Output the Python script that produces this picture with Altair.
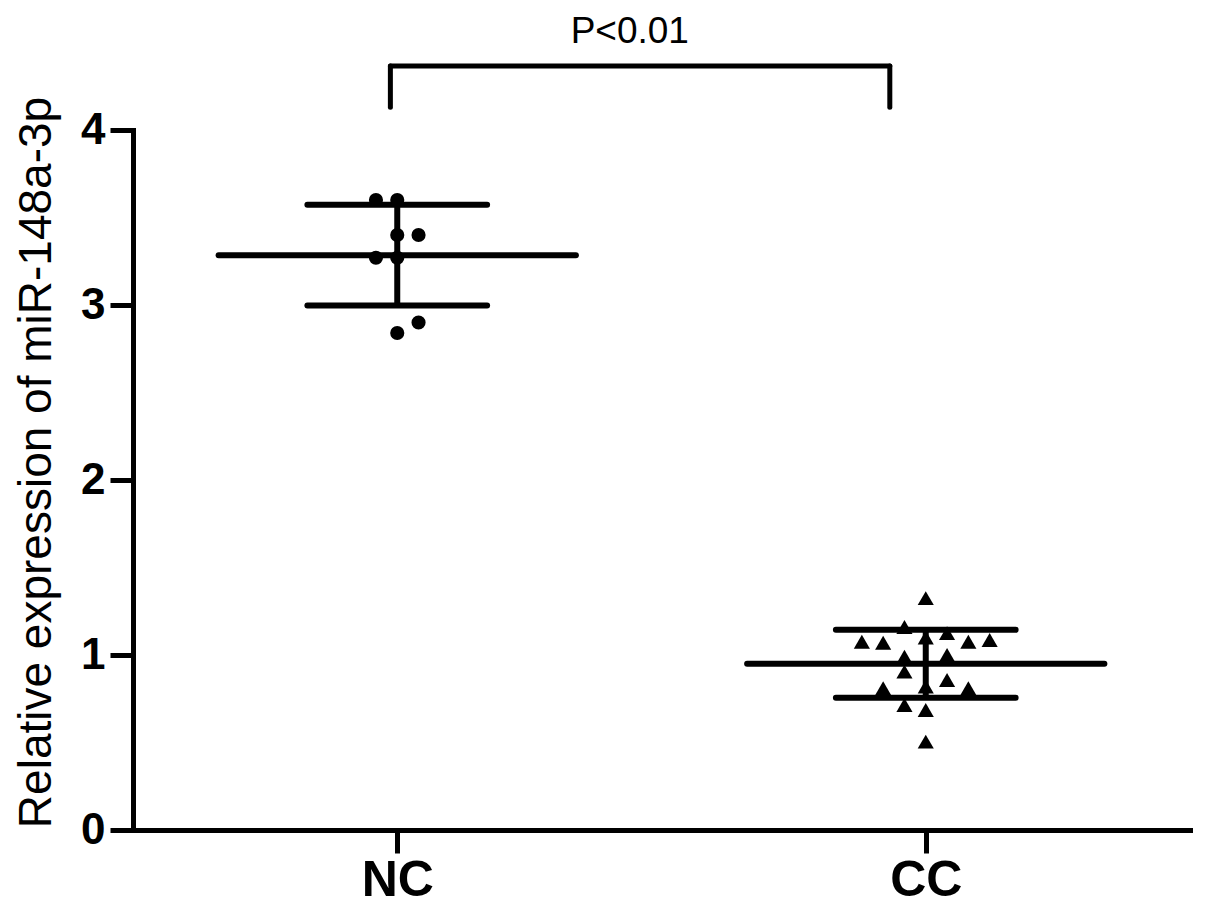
import altair as alt
import pandas as pd

# ---- data ----
groups = ["NC", "CC"]
group_pos = [1, 2]

nc_values = [3.60, 3.60, 3.40, 3.40, 3.27, 3.27, 2.84, 2.90]
nc_cols = [-1, 0, 0, 1, -1, 0, 0, 1]

cc_values = [1.325, 1.16, 1.076, 1.07, 1.10, 1.125, 1.076, 1.086, 0.99, 1.00,
             0.905, 0.81, 0.82, 0.857, 0.81, 0.714, 0.686, 0.505]
cc_cols = [0, -1, -3, -2, 0, 1, 2, 3, -1, 1, -1, -2, 0, 1, 2, -1, 0, 0]

means = [3.285, 0.950]
sds = [0.288, 0.194]

p_label = "P<0.01"
bracket_x = [0.987, 1.932]
bracket_top = 4.366
bracket_bottom = 4.13
p_text_x = 1.44
p_text_y = 4.50

col_step = 0.0403
mean_half = 0.338
sd_half = 0.17

pts = pd.DataFrame({
    "x": [1 + c * col_step for c in nc_cols] + [2 + c * col_step for c in cc_cols],
    "y": nc_values + cc_values,
    "group": ["NC"] * len(nc_values) + ["CC"] * len(cc_values),
})

stats = pd.DataFrame({
    "pos": group_pos,
    "group": groups,
    "mean": means,
    "lo": [m - s for m, s in zip(means, sds)],
    "hi": [m + s for m, s in zip(means, sds)],
    "mx1": [p - mean_half for p in group_pos],
    "mx2": [p + mean_half for p in group_pos],
    "sx1": [p - sd_half for p in group_pos],
    "sx2": [p + sd_half for p in group_pos],
})

xscale = alt.Scale(domain=[0.5, 2.5], nice=False, zero=False)
yscale = alt.Scale(domain=[0, 4], nice=False)

xaxis = alt.Axis(
    values=group_pos,
    labelExpr="datum.value == 1 ? 'NC' : 'CC'",
    title=None, grid=False,
    domainColor="black", domainWidth=5, domainCap="square",
    tickColor="black", tickWidth=5, tickSize=23,
    labelFont="Liberation Sans", labelFontWeight="bold", labelFontSize=50,
    labelColor="black", labelPadding=2,
)
yaxis = alt.Axis(
    values=[0, 1, 2, 3, 4], format="d",
    title="Relative expression of miR-148a-3p",
    titleFont="Liberation Sans", titleFontWeight="normal", titleFontSize=46,
    titleColor="black", titleAngle=270, titleX=-83, titleY=332,
    titleAlign="center", titleBaseline="alphabetic",
    grid=False,
    domainColor="black", domainWidth=5, domainCap="square",
    tickColor="black", tickWidth=5, tickSize=23,
    labelFont="Liberation Sans", labelFontWeight="bold", labelFontSize=44,
    labelColor="black", labelPadding=5,
)

base_pts = alt.Chart(pts)

circles = base_pts.transform_filter("datum.group == 'NC'").mark_point(
    shape="circle", filled=True, color="black", size=200, opacity=1
).encode(
    x=alt.X("x:Q", scale=xscale, axis=xaxis),
    y=alt.Y("y:Q", scale=yscale, axis=yaxis),
)

triangles = base_pts.transform_filter("datum.group == 'CC'").mark_point(
    shape="triangle-up", filled=True, color="black", size=260, opacity=1
).encode(
    x=alt.X("x:Q", scale=xscale),
    y=alt.Y("y:Q", scale=yscale),
)

sb = alt.Chart(stats)
mean_lines = sb.mark_rule(color="black", strokeWidth=6, strokeCap="round").encode(
    x=alt.X("mx1:Q", scale=xscale), x2="mx2:Q", y=alt.Y("mean:Q", scale=yscale)
)
hi_lines = sb.mark_rule(color="black", strokeWidth=6, strokeCap="round").encode(
    x=alt.X("sx1:Q", scale=xscale), x2="sx2:Q", y=alt.Y("hi:Q", scale=yscale)
)
lo_lines = sb.mark_rule(color="black", strokeWidth=6, strokeCap="round").encode(
    x=alt.X("sx1:Q", scale=xscale), x2="sx2:Q", y=alt.Y("lo:Q", scale=yscale)
)
vert = sb.mark_rule(color="black", strokeWidth=6).encode(
    x=alt.X("pos:Q", scale=xscale), y=alt.Y("lo:Q", scale=yscale), y2="hi:Q"
)

br = pd.DataFrame({
    "x1": [bracket_x[0], bracket_x[0], bracket_x[1]],
    "x2": [bracket_x[1], bracket_x[0], bracket_x[1]],
    "y1": [bracket_top, bracket_top, bracket_top],
    "y2": [bracket_top, bracket_bottom, bracket_bottom],
})
bracket = alt.Chart(br).mark_rule(color="black", strokeWidth=5, strokeCap="round", clip=False).encode(
    x=alt.X("x1:Q", scale=xscale), x2="x2:Q",
    y=alt.Y("y1:Q", scale=yscale), y2="y2:Q",
)

ptext = alt.Chart(pd.DataFrame({
    "x": [p_text_x], "y": [p_text_y], "t": [p_label]
})).mark_text(
    font="Liberation Sans", fontSize=37, color="black", align="center",
    baseline="alphabetic", clip=False
).encode(
    x=alt.X("x:Q", scale=xscale), y=alt.Y("y:Q", scale=yscale), text="t:N"
)

chart = alt.layer(
    mean_lines, hi_lines, lo_lines, vert, circles, triangles, bracket, ptext
).properties(
    width=1057, height=700,
    autosize=alt.AutoSizeParams(type="none"),
    padding={"left": 125, "top": 122, "right": 7, "bottom": 77},
).configure(background="white").configure_view(stroke=None, strokeWidth=0)

chart.save("out.html", embed_options={"renderer": "svg", "actions": False})
